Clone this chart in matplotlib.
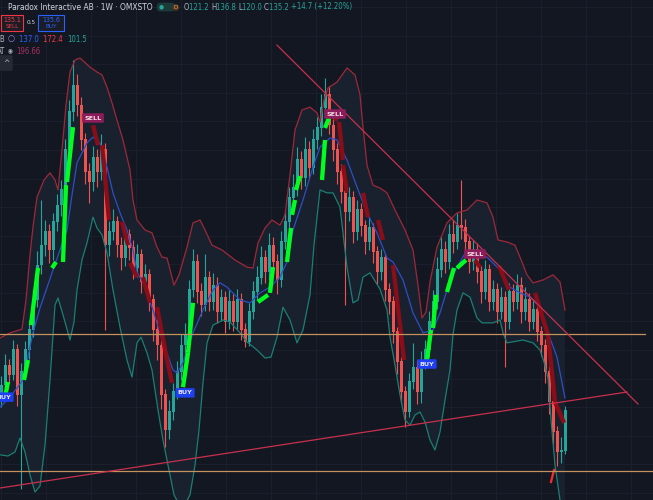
import matplotlib
matplotlib.use("Agg")
import matplotlib.pyplot as plt
from matplotlib.patches import Rectangle
from matplotlib.ticker import MultipleLocator
from matplotlib import font_manager as fm
import numpy as np

# ---------------- data (weekly candles, price units) ----------------
first_open = 140.0
closes = [144.2, 151.2, 147.8, 156.5, 140.8, 148.8, 156.5, 163.5, 174.0, 186.2,
          193.2, 197.8, 191.5, 201.3, 207.2, 212.5, 226.5, 239.8, 249.2, 242.2,
          230.0, 218.8, 215.3, 223.7, 218.8, 226.5, 193.2, 197.8, 201.3, 193.2,
          188.7, 196.8, 192.2, 185.2, 189.8, 180.3, 182.8, 174.0, 163.5, 158.2,
          140.8, 128.5, 134.8, 141.8, 148.8, 158.2, 161.8, 177.5, 187.3, 176.8,
          172.2, 181.7, 173.3, 179.2, 169.8, 174.7, 166.3, 173.3, 166.3, 174.0,
          163.5, 159.3, 169.8, 176.8, 181.7, 188.7, 183.8, 193.2, 187.3, 181.0,
          194.3, 201.3, 209.7, 213.2, 223.0, 216.7, 226.5, 220.2, 230.0, 234.2,
          241.2, 245.8, 235.2, 226.5, 218.8, 211.8, 204.8, 209.7, 197.8, 205.5,
          199.9, 194.3, 199.2, 190.8, 183.8, 188.7, 177.5, 173.3, 162.8, 152.3,
          141.8, 134.8, 145.3, 150.2, 141.8, 152.3, 156.5, 166.3, 173.3, 184.5,
          191.5, 187.3, 196.8, 194.3, 200.2, 199.2, 194.3, 187.3, 191.5, 183.8,
          176.8, 184.5, 173.3, 177.5, 169.8, 174.7, 166.3, 176.8, 173.3, 179.2,
          169.8, 174.0, 166.3, 170.5, 162.8, 158.2, 148.8, 138.3, 127.8, 120.8,
          121.2, 135.2]
highs = [147.5, 155.0, 153.5, 160.0, 158.5, 152.0, 159.5, 167.0, 178.0, 191.0,
         209.0, 202.0, 200.5, 204.5, 211.0, 216.0, 230.5, 244.0, 258.0, 253.0,
         245.0, 232.5, 222.0, 228.0, 227.0, 232.0, 229.0, 201.5, 206.0, 203.5,
         196.0, 200.0, 199.0, 195.0, 193.5, 192.0, 186.5, 185.0, 176.0, 167.5,
         160.5, 143.0, 139.0, 145.0, 152.5, 162.0, 166.0, 181.0, 192.0, 190.0,
         180.0, 190.0, 184.0, 183.5, 182.0, 178.0, 177.0, 177.5, 176.0, 178.0,
         176.5, 166.0, 173.0, 180.5, 186.0, 193.0, 191.5, 197.5, 196.0, 190.0,
         198.0, 205.5, 213.5, 218.0, 227.5, 226.0, 231.0, 229.5, 234.0, 238.0,
         246.0, 251.7, 249.0, 238.0, 229.0, 221.5, 214.0, 213.5, 212.0, 209.0,
         208.0, 202.0, 203.0, 201.0, 193.0, 192.0, 190.5, 180.0, 175.5, 164.5,
         154.0, 144.0, 148.5, 159.0, 153.0, 156.0, 160.0, 170.0, 177.5, 189.0,
         196.0, 194.5, 200.5, 202.0, 204.5, 216.0, 202.5, 196.5, 195.0, 194.0,
         186.0, 188.0, 186.5, 181.0, 180.0, 178.5, 177.0, 180.0, 179.5, 183.0,
         182.0, 178.5, 176.5, 174.0, 173.0, 165.0, 160.5, 151.0, 140.5, 130.0,
         126.0, 136.8]
lows = [136.5, 142.0, 145.0, 146.0, 137.0, 108.0, 146.5, 153.5, 161.0, 171.5,
        183.0, 189.5, 187.0, 188.0, 198.0, 203.5, 210.0, 224.0, 236.5, 238.5,
        226.5, 214.5, 208.0, 212.0, 213.5, 216.0, 163.5, 189.5, 195.0, 189.0,
        184.5, 186.0, 188.0, 181.5, 182.0, 176.5, 177.0, 170.0, 159.5, 153.0,
        136.0, 122.5, 125.5, 132.0, 139.5, 146.0, 154.0, 159.0, 175.0, 173.0,
        168.5, 170.0, 170.0, 170.5, 166.0, 166.5, 162.5, 164.0, 163.0, 164.0,
        160.0, 157.5, 158.0, 167.5, 174.0, 179.5, 180.0, 181.0, 184.0, 176.0,
        178.5, 192.0, 199.0, 206.0, 210.5, 213.0, 214.0, 216.5, 218.0, 227.0,
        231.5, 238.0, 232.0, 222.5, 214.5, 208.0, 172.2, 201.5, 194.0, 195.0,
        196.5, 190.0, 191.5, 187.0, 179.5, 181.0, 173.5, 169.0, 159.0, 148.0,
        138.0, 129.5, 133.0, 143.0, 137.5, 138.0, 150.0, 154.0, 164.0, 171.0,
        182.0, 183.5, 185.0, 190.5, 192.0, 195.5, 191.0, 183.5, 184.5, 180.0,
        173.0, 174.5, 170.0, 170.5, 166.0, 167.5, 150.5, 164.0, 170.0, 171.0,
        166.0, 167.0, 163.0, 164.0, 159.5, 154.5, 145.0, 134.0, 123.5, 116.0,
        117.0, 120.0]
opens = [first_open] + closes[:-1]

# Bollinger-style envelope (week index, price)
upper_idx = [-0.25, 2.25, 5.25, 6.25, 7.25, 8.0, 9.0, 10.75, 12.25, 13.5, 14.25, 15.25,
             16.25, 17.25, 18.5, 19.75, 22.25, 24.0, 25.25, 26.5, 27.75, 29.0, 30.5,
             32.25, 33.0, 34.0, 36.0, 37.75, 39.0, 40.25, 41.5, 43.25, 44.5, 46.5,
             48.0, 49.75, 51.0, 52.75, 55.25, 58.5, 61.5, 63.0, 64.25, 66.0, 67.75,
             69.75, 71.0, 72.25, 73.5, 75.25, 77.25, 79.0, 79.75, 80.75, 81.75, 84.0,
             86.5, 88.5, 89.75, 90.5, 91.5, 93.0, 94.75, 96.5, 98.5, 101.0, 103.0,
             104.25, 105.25, 106.25, 107.25, 109.0, 111.5, 114.0, 116.5, 119.0, 121.5,
             123.0, 124.25, 126.5, 128.5, 130.25, 131.5, 133.0, 135.5, 138.0, 139.75,
             141.0]
upper_val = [160.7, 162.5, 163.8, 174.0, 189.8, 199.6, 210.0, 216.0, 218.5, 216.0, 212.5,
             226.5, 242.2, 253.8, 258.0, 258.7, 255.5, 253.8, 252.8, 248.5, 243.0, 237.0,
             230.0, 219.5, 209.0, 202.0, 198.5, 197.5, 192.5, 189.0, 188.7, 179.2, 182.8,
             192.5, 201.0, 202.0, 198.5, 193.2, 191.5, 188.0, 185.5, 185.2, 194.0, 199.2,
             202.0, 200.2, 203.8, 217.8, 233.5, 240.5, 241.5, 239.5, 236.3, 244.0, 248.2,
             250.3, 255.2, 252.8, 245.8, 234.5, 221.2, 214.2, 213.2, 211.5, 205.5, 198.5,
             191.5, 179.2, 167.7, 169.8, 180.3, 192.5, 201.0, 204.5, 205.5, 209.0, 208.0,
             203.0, 195.0, 194.3, 193.2, 187.3, 182.8, 180.0, 181.0, 182.8, 180.3, 170.5]
middle_idx = [-0.25, 2.25, 5.5, 8.0, 9.75, 13.0, 16.5, 17.75, 19.0, 21.5, 23.0, 24.75,
              26.5, 28.0, 29.75, 31.5, 33.0, 34.0, 35.5, 38.0, 40.5, 43.0, 44.0, 45.5,
              48.0, 50.5, 53.0, 54.75, 56.5, 59.75, 62.25, 64.75, 67.25, 69.75, 71.5,
              73.0, 75.5, 78.0, 79.75, 82.25, 84.0, 86.5, 89.0, 91.5, 94.0, 96.5, 98.0,
              100.5, 103.0, 105.5, 108.0, 109.75, 112.25, 114.0, 116.5, 119.0, 121.5,
              124.75, 127.25, 129.75, 132.25, 134.75, 136.5, 139.0, 141.0]
middle_val = [136.5, 140.0, 146.0, 162.5, 171.2, 184.5, 198.5, 210.8, 222.0, 229.0, 231.0,
              229.0, 220.5, 211.5, 204.5, 198.5, 191.5, 183.8, 180.0, 170.5, 159.0, 149.5,
              148.5, 152.0, 162.5, 170.5, 177.5, 180.0, 178.5, 174.0, 173.0, 176.5, 178.5,
              182.0, 187.3, 198.5, 209.0, 220.5, 227.5, 230.7, 230.0, 223.0, 213.5, 204.5,
              197.5, 188.7, 187.3, 181.0, 169.5, 162.5, 163.5, 169.5, 181.0, 185.5, 191.5,
              190.5, 189.0, 184.5, 178.5, 176.5, 175.0, 171.5, 163.5, 154.0, 139.7]
lower_idx = [-0.25, 1.75, 3.5, 4.75, 6.0, 7.25, 8.5, 9.75, 11.0, 12.25, 13.5, 14.25,
             15.5, 17.25, 18.25, 19.0, 20.25, 21.5, 23.0, 24.0, 25.25, 26.5, 28.0, 29.75,
             31.5, 32.75, 34.0, 35.0, 36.5, 37.75, 39.25, 40.5, 41.75, 43.25, 45.25,
             47.25, 48.5, 49.5, 50.5, 51.5, 53.0, 55.5, 57.25, 59.75, 61.5, 64.0, 66.0,
             67.5, 69.0, 70.5, 72.25, 74.0, 75.5, 77.25, 78.25, 79.75, 81.5, 83.0, 84.75,
             86.5, 88.0, 89.25, 90.5, 92.25, 94.75, 96.5, 97.25, 98.5, 99.75, 101.0,
             102.25, 103.5, 104.75, 106.0, 107.25, 108.5, 109.75, 111.0, 112.25, 113.0,
             114.0, 115.5, 117.25, 119.0, 120.25, 123.0, 124.75, 125.5, 126.5, 130.5,
             133.0, 134.75, 135.75, 136.75, 137.5, 138.5, 139.75, 141.0]
lower_val = [119.8, 119.4, 120.8, 125.7, 120.8, 112.8, 106.8, 108.9, 123.2, 146.0, 172.2,
             174.7, 168.8, 160.0, 166.3, 177.5, 188.0, 194.0, 203.0, 199.2, 196.8, 190.5,
             177.5, 164.5, 153.0, 147.0, 159.0, 161.0, 155.5, 149.5, 135.5, 125.0, 116.2,
             105.8, 100.5, 105.8, 116.2, 128.5, 145.0, 159.0, 165.2, 167.0, 166.3, 162.5,
             159.3, 156.5, 153.7, 154.0, 161.0, 171.5, 167.0, 159.0, 163.5, 175.8, 193.2,
             212.5, 211.5, 211.5, 206.5, 185.5, 173.0, 174.0, 182.0, 183.5, 177.8, 170.5,
             161.0, 151.2, 140.8, 132.0, 130.2, 133.8, 134.8, 131.3, 125.0, 121.5, 127.8,
             139.0, 149.5, 161.8, 170.5, 176.5, 175.0, 167.7, 166.0, 166.0, 167.0, 162.5,
             159.0, 160.0, 159.0, 156.5, 152.3, 146.7, 132.0, 116.2, 104.0, 97.0]

# Trend indicator segments (start idx, start price, end idx, end price, rising?)
seg_x0 = [1.0, 5.75, 7.5, 12.75, 15.5, 16.5, 23.0, 25.25, 30.25, 32.25, 35.5, 39.0, 41.5,
          45.5, 46.75, 64.25, 67.25, 71.5, 72.75, 73.75, 80.25, 81.0, 83.25, 84.5, 85.5,
          90.5, 94.25, 98.0, 99.75, 106.5, 108.0, 111.5, 114.0, 118.5, 124.5, 133.5,
          136.75, 138.5]
seg_y0 = [140.0, 146.0, 165.2, 185.2, 187.3, 215.3, 235.2, 228.2, 201.3, 187.0, 182.0,
          171.5, 153.0, 143.5, 155.5, 173.3, 176.5, 187.3, 203.8, 212.5, 216.0, 234.2,
          237.7, 236.3, 221.2, 211.5, 202.0, 186.2, 165.2, 153.0, 164.2, 176.8, 185.2,
          188.0, 185.9, 176.5, 161.8, 138.3]
seg_x1 = [1.75, 6.75, 9.25, 13.75, 16.25, 18.0, 24.25, 27.0, 31.75, 34.0, 37.25, 41.5,
          42.75, 46.75, 48.0, 66.75, 68.0, 72.5, 73.5, 74.75, 81.0, 82.0, 84.25, 85.5,
          86.5, 91.75, 95.5, 99.75, 100.75, 107.5, 108.75, 113.25, 116.25, 119.75, 127.0,
          136.75, 138.5, 140.75]
seg_y1 = [145.3, 153.0, 185.2, 187.3, 214.2, 234.5, 228.2, 202.0, 193.2, 182.0, 173.0,
          153.0, 145.0, 155.5, 173.0, 175.8, 185.5, 199.2, 209.0, 217.4, 230.0, 237.7,
          237.0, 223.0, 211.5, 203.0, 195.0, 165.2, 153.0, 163.5, 175.8, 185.2, 188.0,
          185.5, 177.5, 161.8, 138.3, 131.0]
seg_up = [True, True, True, True, True, True, False, False, False, False, False, False,
          False, True, True, True, True, True, True, True, True, True, False, False, False,
          False, False, False, False, True, True, True, True, False, False, False, False,
          False]
spike_idx = [137.5, 138.25]
spike_val = [110.3, 114.5]

# Signals
sig_idx = [0.75, 23.0, 46.0, 83.5, 106.5, 118.5]
sig_val = [140.0, 237.7, 141.5, 239.1, 151.6, 190.1]
sig_kind = ["BUY", "SELL", "BUY", "SELL", "BUY", "SELL"]

# Drawn lines
rise_idx = [-0.25, 156.5]
rise_val = [108.2, 141.8]
fall_idx = [69.0, 159.25]
fall_val = [263.2, 137.6]
level_hi = 162.1
level_hi_end = 161.0
level_lo = 114.2

# ---------------- figure ----------------
W, H = 653, 500
BG = "#131722"
fig = plt.figure(figsize=(W / 100, H / 100), dpi=100, facecolor=BG)
ax = fig.add_axes([0, 0, 1, 1], facecolor=BG)
ax.set_xlim(-0.25, 163.0)
ax.set_ylim(104, 279)
for s in ax.spines.values():
    s.set_visible(False)
ax.xaxis.set_major_locator(MultipleLocator(11.25))
ax.yaxis.set_major_locator(MultipleLocator(10, offset=6.5))
ax.tick_params(length=0, labelleft=False, labelbottom=False)
ax.grid(True, color="#1c2030", lw=0.6, zorder=0)
ax.set_axisbelow(True)

# envelope fill
poly_x = np.concatenate([upper_idx, lower_idx[::-1]])
poly_y = np.concatenate([upper_val, lower_val[::-1]])
ax.fill(poly_x, poly_y, color="#19212f", lw=0, zorder=0.5)

# candles
UP, DN = "#26a69a", "#ef5350"
idx = np.arange(len(closes))
o = np.array(opens); c = np.array(closes)
hi = np.array(highs); lo = np.array(lows)
cols = [UP if cc >= oo else DN for oo, cc in zip(o, c)]
ax.vlines(idx, lo, hi, colors=cols, lw=0.8, zorder=2)
ax.bar(idx, np.abs(c - o) + 0.2, bottom=np.minimum(o, c), width=0.75, color=cols,
       lw=0, zorder=2.1)

# envelope lines
ax.plot(upper_idx, upper_val, color="#9e2838", lw=0.9, zorder=3)
ax.plot(lower_idx, lower_val, color="#1b7f73", lw=0.9, zorder=3)
ax.plot(middle_idx, middle_val, color="#2d4fc4", lw=0.9, zorder=3)

# trend segments
for x0, y0, x1, y1, up in zip(seg_x0, seg_y0, seg_x1, seg_y1, seg_up):
    ax.plot([x0, x1], [y0, y1], color="#00ff1e" if up else "#8a0d18", lw=3.1,
            solid_capstyle="butt", zorder=4)
ax.plot(spike_idx, spike_val, color="#ff2a2a", lw=1.6, zorder=4)

# horizontal levels and trend lines
LEVEL = "#c4925c"
ax.plot([-0.25, level_hi_end], [level_hi, level_hi], color=LEVEL, lw=0.9, zorder=4.2)
ax.axhline(level_lo, color=LEVEL, lw=0.9, zorder=4.2)
ax.plot(rise_idx, rise_val, color="#c8304c", lw=0.9, zorder=4.5)
ax.plot(fall_idx, fall_val, color="#c8304c", lw=0.9, zorder=4.5)

# signals
for xi, yv, k in zip(sig_idx, sig_val, sig_kind):
    if k == "BUY":
        fc, tc = "#1f3ff2", "#e4e9ff"
    else:
        fc, tc = "#8c1d5a", "#f6dde9"
    ax.text(xi, yv, k, ha="center", va="center", fontsize=4.6, color=tc,
            fontweight="bold", zorder=6,
            bbox=dict(boxstyle="round,pad=0.35,rounding_size=0.15", fc=fc, ec="none"))

# ---------------- header ----------------
def pick_font():
    for fam, stretch in [("Liberation Sans Narrow", "normal"),
                         ("DejaVu Sans", "condensed")]:
        try:
            path = fm.findfont(fm.FontProperties(family=fam, stretch=stretch),
                               fallback_to_default=False)
            if "Narrow" in path or "Condensed" in path:
                return [fam, "DejaVu Sans"], stretch
        except Exception:
            pass
    return ["Liberation Sans", "DejaVu Sans"], "normal"


FONT, STRETCH = pick_font()
renderer = fig.canvas.get_renderer()
SZ = 5.8


def ftxt(x, y, s, color, size=SZ, ha="left", **kw):
    t = fig.text(x / W, 1 - y / H, s, color=color, fontsize=size, ha=ha, va="center",
                 family=FONT, fontstretch=STRETCH, **kw)
    return t


def flow(x, y, pieces, size=SZ, gap=0.0):
    for s, col in pieces:
        t = ftxt(x, y, s, col, size)
        x += t.get_window_extent(renderer).width + gap
    return x


TEAL = "#26a69a"
GREY = "#b2b5be"
x_end = flow(8, 7, [("Paradox Interactive AB · 1W · OMXSTO", "#d1d4dc")], 6.0)
px0 = x_end + 6
ftxt(px0, 7, "●     ", TEAL, 4.6,
     bbox=dict(boxstyle="round,pad=0.3,rounding_size=0.6", fc="#1c3a38", ec="none"))
ftxt(px0 + 15, 7.5, "D", "#f0a050", 4.6,
     bbox=dict(boxstyle="circle,pad=0.15", fc="#4a3422", ec="none"))
flow(px0 + 25, 7, [("O", GREY), ("121.2 ", TEAL), ("H", GREY), ("136.8 ", TEAL),
                   ("L", GREY), ("120.0 ", TEAL), ("C", GREY), ("135.2 ", TEAL),
                   ("+14.7 (+12.20%)", TEAL)], 5.6)

fig.patches.append(Rectangle((0.5 / W, 1 - 31 / H), 22.5 / W, 16 / H, transform=fig.transFigure,
                             fc="#1a1d26", ec="#f23645", lw=0.8))
fig.patches.append(Rectangle((38 / W, 1 - 31 / H), 26 / W, 16 / H, transform=fig.transFigure,
                             fc="#1a1d26", ec="#2962ff", lw=0.8))
ftxt(12, 19.5, "135.1", "#f23645", 5.0, ha="center")
ftxt(12, 26.5, "SELL", "#f23645", 4.6, ha="center")
ftxt(51, 19.5, "135.6", "#2962ff", 5.0, ha="center")
ftxt(51, 26.5, "BUY", "#2962ff", 4.6, ha="center")
ftxt(31, 22.5, "0.5", "#d1d4dc", 4.6, ha="center")

ftxt(-1, 39, "B", GREY, 5.6)
ftxt(7.5, 39, "○", "#9b7fe0", 6.5)
flow(19, 39, [("137.0  ", "#2962ff"), ("172.4  ", "#f23645"), ("101.5", TEAL)], 5.6)
ftxt(-3, 51, "AT", GREY, 5.6)
ftxt(8, 51, "◉", GREY, 4.5)
ftxt(16.5, 51, "196.66", "#a8305f", 5.6)
ftxt(3, 63, "^", GREY, 6.0,
     bbox=dict(boxstyle="round,pad=0.4,rounding_size=0.2", fc="#262a35", ec="none"))

fig.savefig("out.png", dpi=100, facecolor=BG)
